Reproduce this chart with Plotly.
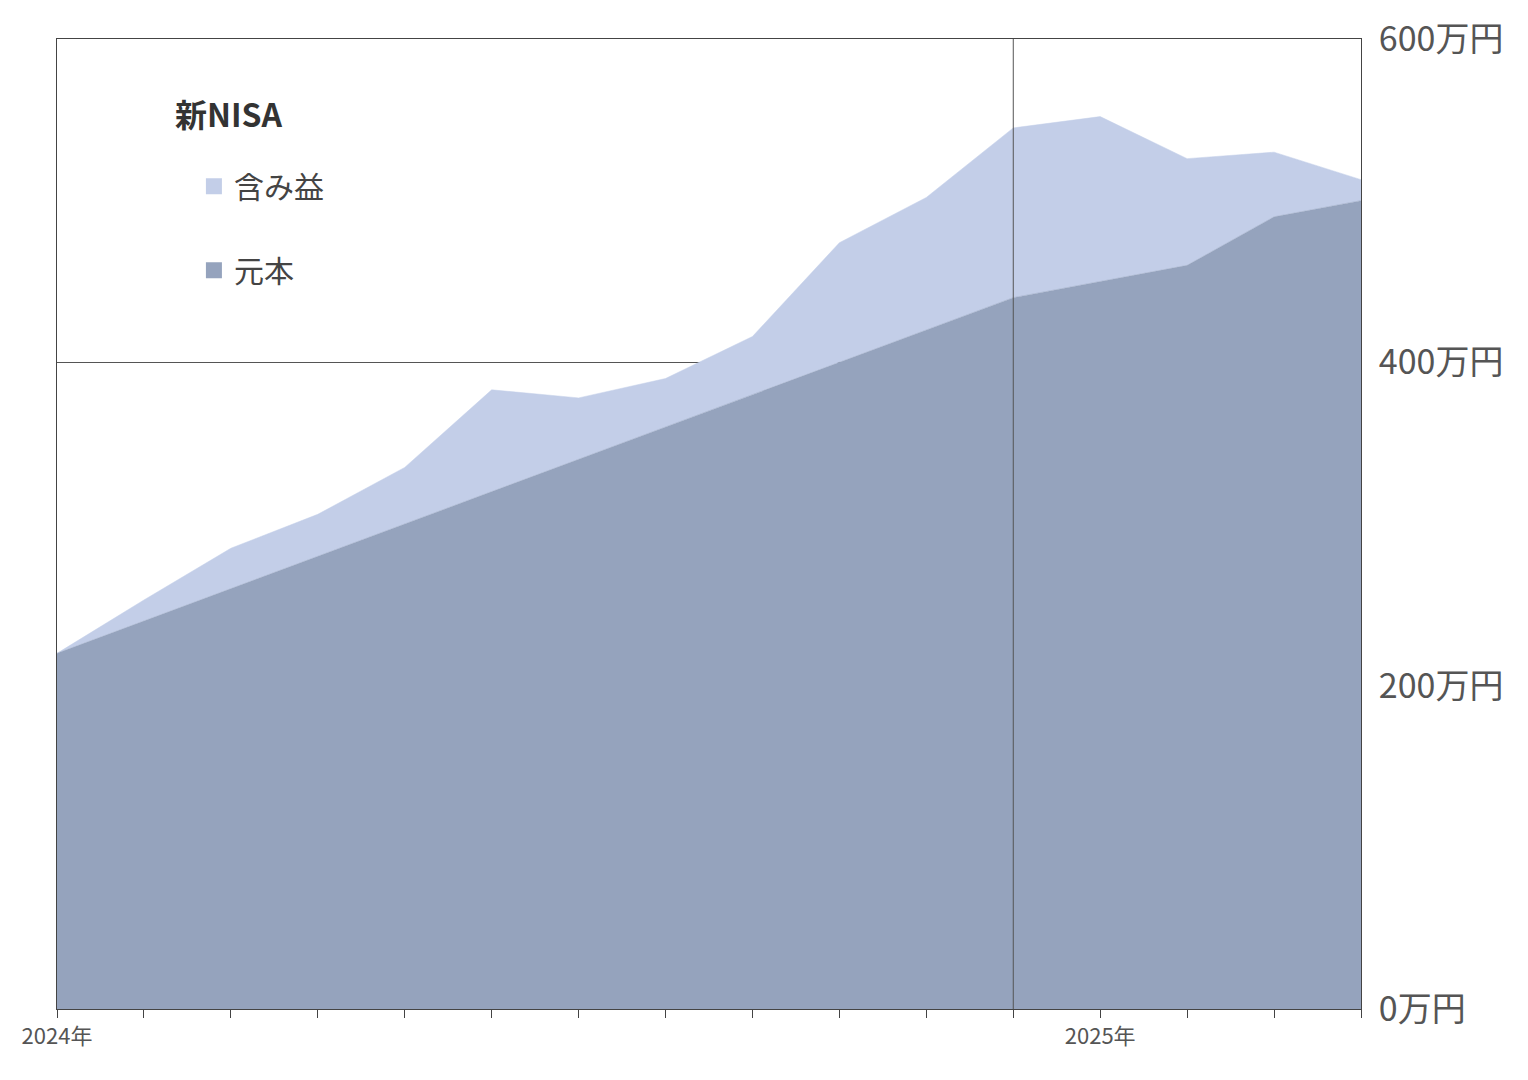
import plotly.graph_objects as go

months = list(range(16))
principal = [220, 240, 260, 280, 300, 320, 340, 360, 380, 400, 420, 440, 450, 460, 490, 500]
total = [220, 253, 285, 306, 335, 383, 378, 390, 416, 474, 502, 545, 552, 526, 530, 513]
gain = [t - p for t, p in zip(total, principal)]
tick_labels = ["2024年"] + [""] * 11 + ["2025年"] + [""] * 3
y_ticks = [0, 200, 400, 600]
y_labels = ["0万円", "200万円", "400万円", "600万円"]

FONT = "Noto Sans CJK JP"
C_P, C_G = "#95a3bd", "#c3cee8"
fig = go.Figure()
fig.add_trace(go.Scatter(x=months, y=principal, name="元本", stackgroup="a", mode="lines",
                         line=dict(width=0.5, color=C_P), fillcolor=C_P, showlegend=False))
fig.add_trace(go.Scatter(x=months, y=gain, name="含み益", stackgroup="a", mode="lines",
                         line=dict(width=0.5, color=C_G), fillcolor=C_G, showlegend=False))
for name, c in [("含み益", C_G), ("元本", C_P)]:
    fig.add_trace(go.Scatter(x=[None], y=[None], mode="markers", name=name, legendgroup=name,
                             marker=dict(symbol="square", size=22, color=c)))
fig.add_shape(type="line", x0=11, x1=11, y0=0, y1=600, xref="x", yref="y",
              line=dict(color="#555", width=1), layer="above")
fig.add_annotation(text="<b>新NISA</b>", xref="paper", yref="paper", x=0.089, y=0.924,
                   xanchor="left", yanchor="middle", showarrow=False,
                   font=dict(size=32, color="#333", family=FONT))
fig.update_layout(
    width=1528, height=1080, plot_bgcolor="white", paper_bgcolor="white",
    margin=dict(l=49, r=175, t=31, b=79, autoexpand=False),
    font=dict(family=FONT, color="#555"),
    legend=dict(x=0.105, y=0.875, xanchor="left", yanchor="top",
                font=dict(size=30, color="#444"), tracegroupgap=42, bgcolor="rgba(0,0,0,0)"),
    xaxis=dict(range=[0, 15], tickvals=months, ticktext=tick_labels, ticks="outside",
               ticklen=8, tickcolor="#444", showgrid=False, zeroline=False, automargin=False,
               showline=True, linecolor="#444", mirror=True,
               tickfont=dict(size=22, color="#555")),
    yaxis=dict(range=[0, 600], tickvals=y_ticks, ticktext=y_labels, side="right",
               showgrid=True, gridcolor="#555", gridwidth=1, zeroline=False, automargin=False,
               showline=True, linecolor="#444", mirror=True, layer="above traces",
               ticklabelstandoff=10, tickfont=dict(size=34, color="#555")),
)
fig.write_html("out.html")
